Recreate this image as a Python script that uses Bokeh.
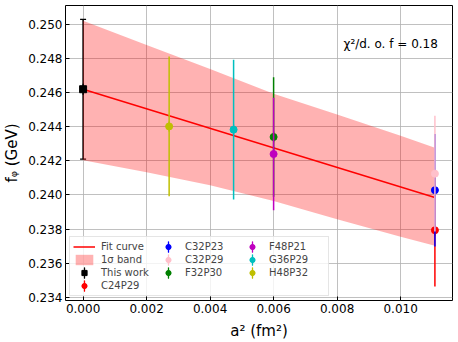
from bokeh.plotting import figure
from bokeh.models import (ColumnDataSource, Range1d, FixedTicker, NumeralTickFormatter,
                          Legend, LegendItem, Label, Whisker, TeeHead)
from bokeh.embed import file_html
from bokeh.resources import INLINE

# ---- data ----
names = ["This work", "C24P29", "C32P23", "C32P29", "F32P30", "F48P21", "G36P29", "H48P32"]
a2 = [0.0, 0.01108, 0.01108, 0.01108, 0.00600, 0.00600, 0.00474, 0.00271]
f_phi = [0.24620, 0.23793, 0.24028, 0.24125, 0.24340, 0.24240, 0.24383, 0.24402]
f_err = [0.0041, 0.0033, 0.0033, 0.0034, 0.0035, 0.0033, 0.0041, 0.0041]
colors = ["black", "red", "blue", "pink", "#008000", "#bf00bf", "#00bfbf", "#bfbf00"]

fit_x = [0.0, 0.01108]
fit_y = [0.24620, 0.23985]

band_x = [0.0, 0.002, 0.004, 0.006, 0.008, 0.010, 0.01108]
band_upper = [0.25022, 0.24880, 0.24738, 0.24594, 0.24472, 0.24347, 0.24277]
band_lower = [0.24203, 0.24133, 0.24057, 0.23965, 0.23858, 0.23755, 0.23702]

x_ticks = [0.000, 0.002, 0.004, 0.006, 0.008, 0.010]
y_ticks = [0.234, 0.236, 0.238, 0.240, 0.242, 0.244, 0.246, 0.248, 0.250]
chi_text = "χ²/d. o. f = 0.18"

FONT = "DejaVu Sans"

p = figure(frame_width=387, frame_height=295, output_backend="svg", toolbar_location=None,
           x_range=Range1d(-0.000554, 0.011634), y_range=Range1d(0.23381, 0.25111),
           min_border_left=65, min_border_right=5, min_border_top=5, min_border_bottom=40)

p.background_fill_color = "white"
p.border_fill_color = "white"
p.outline_line_color = "black"
p.outline_line_width = 1

for ax in (p.xaxis[0], p.yaxis[0]):
    ax.axis_line_color = None
    ax.major_tick_in = 4
    ax.major_tick_out = 0
    ax.minor_tick_line_color = None
    ax.major_tick_line_color = "black"
    ax.major_label_text_font = FONT
    ax.major_label_text_font_size = "12px"
    ax.major_label_text_color = "black"
    ax.axis_label_text_font = FONT
    ax.axis_label_text_font_size = "15px"
    ax.axis_label_text_font_style = "normal"
    ax.axis_label_text_color = "black"
    ax.major_label_standoff = 3
    ax.formatter = NumeralTickFormatter(format="0.000")

p.xaxis[0].ticker = FixedTicker(ticks=x_ticks)
p.yaxis[0].ticker = FixedTicker(ticks=y_ticks)
p.xaxis[0].axis_label = "a² (fm²)"
p.yaxis[0].axis_label = "fᵩ (GeV)"
p.xaxis[0].axis_label_standoff = 6
p.yaxis[0].axis_label_standoff = 4

p.grid.grid_line_color = "#b0b0b0"
p.grid.grid_line_alpha = 0.8
p.grid.grid_line_width = 1

# band and fit
band = p.varea(x=band_x, y1=band_lower, y2=band_upper, fill_color="red", fill_alpha=0.3)
fit = p.line(x=fit_x, y=fit_y, line_color="red", line_width=1.5)

# thin vertical ellipses at each point: hidden under the error bars, they give
# the legend its vertical error-bar glyph
bar_rs = []
for i in range(len(names)):
    src = ColumnDataSource(dict(x=[a2[i]], y=[f_phi[i]]))
    r = p.ellipse(x="x", y="y", source=src, width=0.02, height=10,
                  width_units="screen", height_units="screen",
                  fill_color=colors[i], line_color=colors[i], line_width=1.3)
    bar_rs.append(r)

dot_rs = []
for i in range(len(names)):
    src = ColumnDataSource(dict(x=[a2[i]], y=[f_phi[i]],
                                lo=[f_phi[i] - f_err[i]], hi=[f_phi[i] + f_err[i]]))
    if i == 0:
        w = Whisker(source=src, base="x", lower="lo", upper="hi", dimension="height",
                    line_color=colors[i], line_width=1.5,
                    upper_head=TeeHead(size=6, line_color=colors[i], line_width=1.2),
                    lower_head=TeeHead(size=6, line_color=colors[i], line_width=1.2))
        p.add_layout(w)
        r = p.scatter("x", "y", source=src, marker="square", size=7,
                      fill_color=colors[i], line_color=colors[i])
    else:
        p.segment(x0="x", y0="lo", x1="x", y1="hi", source=src,
                  line_color=colors[i], line_width=1.5)
        r = p.scatter("x", "y", source=src, marker="circle", size=7,
                      fill_color=colors[i], line_color=colors[i])
    dot_rs.append(r)

label = Label(x=0.0082, y=0.24887, text=chi_text, text_font=FONT, text_font_size="12px",
              text_baseline="middle", text_color="black")
p.add_layout(label)

def item(i):
    return LegendItem(label=names[i], renderers=[bar_rs[i], dot_rs[i]])

items = [
    LegendItem(label="Fit curve", renderers=[fit]), item(2), item(5),
    LegendItem(label="1σ band", renderers=[band]), item(3), item(6),
    item(0), item(4), item(7),
    item(1),
]
legend = Legend(items=items, location="bottom_left", orientation="horizontal", ncols=3,
                label_text_font=FONT, label_text_font_size="10px",
                glyph_width=22, glyph_height=13, label_height=13, label_width=56,
                label_standoff=6, spacing=0, padding=3, margin=4,
                border_line_color="#cccccc", border_line_width=1,
                background_fill_color="white", background_fill_alpha=0.8)
p.add_layout(legend)

open("out.html", "w").write(file_html(p, INLINE))
